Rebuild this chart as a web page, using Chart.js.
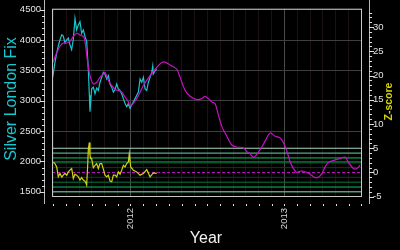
<!DOCTYPE html>
<html><head><meta charset="utf-8">
<script src="https://cdn.jsdelivr.net/npm/chart.js@4/dist/chart.umd.min.js"></script>
<style>html,body{margin:0;padding:0;background:#000;}canvas{display:block;}</style>
</head><body>
<canvas id="c" width="400" height="250"></canvas>
<script>
// ---- data (x = months since Jan 2011) ----
const fixMonth = [5.94,6.12,6.26,6.38,6.51,6.65,6.77,6.90,7.04,7.16,7.29,7.42,7.55,7.68,7.81,7.94,8.07,8.20,8.33,8.46,8.59,8.72,8.80,8.85,8.98,9.11,9.24,9.37,9.50,9.63,9.76,9.89,10.02,10.15,10.28,10.41,10.54,10.67,10.80,10.93,11.06,11.19,11.32,11.45,11.58,11.71,11.84,11.97,12.10,12.23,12.36,12.49,12.62,12.75,12.88,13.01,13.14,13.27,13.40,13.53,13.66,13.74,13.78,13.92,14.05];
const fixPrice = [3385,3628,3789,3902,4004,4085,4064,3951,4004,4032,3923,3842,4004,4355,4166,4246,4301,4112,4166,4059,3978,3519,3090,2820,3196,3224,3116,3208,3170,3305,3385,3466,3439,3358,3413,3277,3224,3143,3187,3277,3196,3170,3116,3035,2954,2901,2954,2873,2935,2981,3035,3090,3143,3358,3305,3385,3196,3170,3305,3385,3466,3574,3439,3494,3519];
const fitMonth = [5.94,6.26,6.51,6.77,7.04,7.29,7.55,7.81,8.07,8.33,8.46,8.64,8.85,9.11,9.37,9.63,9.89,10.02,10.28,10.54,10.80,11.06,11.32,11.58,11.84,11.97,12.49,13.01,13.53,14.05,14.56,15.22,15.61,15.87,16.26,16.65,17.17,17.56,17.81,18.07,18.34,18.59,18.85,19.12,19.51,19.90,20.29,20.78,21.06,21.32,21.58,21.84,22.23,22.49,22.88,23.27,23.66,23.92,24.18,24.44,24.70,24.96,25.22,25.47,25.86,26.13,26.39,26.64,26.91,27.17,27.42,27.81,28.20,28.47,28.72,28.98,29.37,29.64,29.89];
const fitPrice = [3628,3789,3897,3951,3951,3978,4059,4112,4085,4059,3978,3681,3413,3277,3305,3385,3439,3466,3332,3251,3187,3170,3143,3062,2981,2917,3035,3251,3413,3547,3639,3574,3519,3385,3170,3074,3019,3035,3074,3035,2981,2954,2767,2578,2416,2271,2238,2227,2162,2125,2069,2117,2238,2335,2469,2416,2389,2308,2174,1996,1883,1819,1839,1839,1807,1770,1733,1742,1797,1915,1985,2017,2040,2061,2072,1988,1883,1883,1939];
const zMonth = [5.99,6.12,6.26,6.38,6.51,6.65,6.77,6.90,7.04,7.16,7.29,7.42,7.55,7.68,7.81,7.94,8.07,8.20,8.33,8.46,8.59,8.67,8.72,8.80,8.85,8.91,8.98,9.11,9.24,9.37,9.50,9.63,9.76,9.89,10.02,10.15,10.28,10.41,10.54,10.67,10.80,10.93,11.06,11.19,11.32,11.45,11.58,11.71,11.84,11.91,12.02,12.23,12.49,12.75,13.01,13.27,13.53,13.78,14.05];
const zScore = [2.11,1.84,1.08,-0.90,-0.20,-0.96,-0.55,-0.20,-0.55,0.12,0.47,0.82,-1.23,-0.35,-0.55,-0.90,-1.58,-1.06,-1.58,-1.78,-2.60,1.49,4.77,6.2,3.54,2.87,2.87,0.98,1.49,1.84,0.82,1.84,1.84,0.68,-0.55,-0.90,-0.55,-1.78,-1.92,-0.55,-0.55,-0.90,0.12,-0.35,0.47,1.49,1.15,1.84,2.17,3.89,1.15,0.47,0.12,-0.55,-0.20,0.61,-0.90,-0.08,-0.20];
const bandLevels = [5,4,3,2,1,-1,-2,-3,-4,-5];
const zeroLevel = [0];
const priceTicks = [1500,2000,2500,3000,3500,4000,4500];
const zTicks = [-5,0,5,10,15,20,25,30];
const yearTickMonths = [12,24];
const yearTickLabels = ['2012','2013'];
const monthRange = [5.89,30.04];
const priceRange = [1415,4516];
const zRange = [-5.06,33.8];

// ---- styles ----
const bandColors = ['#a8d4bc','#60d8a0','#10c060','#08783a','#04401f','#04401f','#08783a','#10c060','#60d8a0','#a8d4bc'];
const FONT = "'Liberation Sans', Arial, sans-serif";

const pts = (xs, ys) => xs.map((x, i) => ({x, y: ys[i]}));
const datasets = [];
datasets.push({label:'fit', data: pts(fitMonth, fitPrice), yAxisID:'y', borderColor:'#c810c8', borderWidth:1.2, pointRadius:0, tension:0.3, order:0});
datasets.push({label:'fix', data: pts(fixMonth, fixPrice), yAxisID:'y', borderColor:'#18c4cc', borderWidth:1.2, pointRadius:0, tension:0, order:1});
datasets.push({label:'z', data: pts(zMonth, zScore), yAxisID:'y2', borderColor:'#d2d214', borderWidth:1.2, pointRadius:0, tension:0, order:2});
zeroLevel.forEach(l => datasets.push({label:'zero', data:[{x:monthRange[0],y:l},{x:monthRange[1],y:l}], yAxisID:'y2', borderColor:'#c010c0', borderWidth:1, borderDash:[3,2], pointRadius:0, order:5}));
bandLevels.forEach((l, i) => datasets.push({label:'band'+l, data:[{x:monthRange[0],y:l},{x:monthRange[1],y:l}], yAxisID:'y2', borderColor:bandColors[i], borderWidth:1, pointRadius:0, order:10}));

const decor = {
  id: 'decor',
  beforeDraw(chart) {
    const c = chart.ctx; c.save(); c.fillStyle = '#000'; c.fillRect(0, 0, chart.width, chart.height); c.restore();
  },
  afterDraw(chart) {
    const c = chart.ctx, a = chart.chartArea, xs = chart.scales.x, yl = chart.scales.y, yr = chart.scales.y2;
    c.save();
    // frame
    c.strokeStyle = '#c8c8c8'; c.lineWidth = 1;
    c.strokeRect(a.left + 0.5, a.top + 0.5, a.right - a.left - 1, a.bottom - a.top - 1);
    // left axis
    c.fillStyle = '#b8b8b8';
    c.fillRect(44, 0, 1, 204);
    c.fillStyle = '#e0e0e0';
    for (let v = Math.ceil(yl.min / 100) * 100; v <= yl.max; v += 100) {
      const p = Math.round(yl.getPixelForValue(v));
      if (v % 500 === 0) c.fillRect(40, p, 5, 1); else c.fillRect(42, p, 3, 1);
    }
    // right axis
    c.fillStyle = '#b8b8b8';
    c.fillRect(369, 0, 1, 204);
    c.fillStyle = '#e0e0e0';
    for (let v = Math.ceil(yr.min); v <= yr.max; v += 1) {
      const p = Math.round(yr.getPixelForValue(v));
      if (v % 5 === 0) c.fillRect(369, p, 5, 1); else c.fillRect(369, p, 3, 1);
    }
    // bottom month ticks
    for (let m = Math.ceil(xs.min); m <= xs.max; m++) {
      const p = Math.round(xs.getPixelForValue(m));
      c.fillRect(p, 204, 1, 2);
    }
    // titles
    c.textAlign = 'center'; c.textBaseline = 'middle';
    c.save(); c.translate(12, 99); c.rotate(-Math.PI / 2);
    c.fillStyle = '#14c8d0'; c.font = '16px ' + FONT; c.fillText('Silver London Fix', 0, 0); c.restore();
    c.save(); c.translate(389.5, 101.5); c.rotate(-Math.PI / 2);
    c.fillStyle = '#d4d400'; c.font = 'bold 10.5px ' + FONT; c.fillText('Z-score', 0, 0); c.restore();
    c.fillStyle = '#f0f0f0'; c.font = '16px ' + FONT; c.fillText('Year', 206, 239);
    c.restore();
  }
};

new Chart(document.getElementById('c'), {
  type: 'line',
  data: { datasets },
  plugins: [decor],
  options: {
    responsive: false, animation: false, devicePixelRatio: 1,
    layout: { padding: { top: 5, left: 0, right: 0, bottom: 0 } },
    plugins: { legend: { display: false }, tooltip: { enabled: false } },
    elements: { line: { borderCapStyle: 'butt' } },
    scales: {
      x: {
        type: 'linear', min: monthRange[0], max: monthRange[1],
        afterBuildTicks(s) { const t = []; for (let m = Math.ceil(s.min); m <= s.max; m++) t.push({value: m}); s.ticks = t; },
        afterFit(s) { s.height = 53; },
        ticks: { autoSkip: false, minRotation: 90, maxRotation: 90, padding: 3, color: '#d8d8d8', font: { family: FONT, size: 9.5 },
          callback(v) { const i = yearTickMonths.indexOf(v); return i >= 0 ? yearTickLabels[i] : ''; } },
        grid: { color: ctx => (ctx.tick && yearTickMonths.includes(ctx.tick.value)) ? '#4a4a4a' : '#1c1010', tickColor: 'transparent', tickLength: 8, lineWidth: 1 },
        border: { display: false }
      },
      y: {
        type: 'linear', position: 'left', min: priceRange[0], max: priceRange[1],
        afterBuildTicks(s) { s.ticks = priceTicks.map(v => ({value: v})); },
        afterFit(s) { s.width = 52; },
        ticks: { padding: 3, color: '#e4e4e4', font: { family: FONT, size: 9.5 }, callback: v => String(v) },
        grid: { color: '#3e3e3e', tickColor: 'transparent', tickLength: 8, lineWidth: 1 },
        border: { display: false }
      },
      y2: {
        type: 'linear', position: 'right', min: zRange[0], max: zRange[1],
        afterBuildTicks(s) { s.ticks = zTicks.map(v => ({value: v})); },
        afterFit(s) { s.width = 38; },
        ticks: { padding: 3, color: '#e4e4e4', font: { family: FONT, size: 9.5 }, callback: v => String(v) },
        grid: { drawOnChartArea: false, tickColor: 'transparent', tickLength: 8 },
        border: { display: false }
      }
    }
  }
});
</script>
</body></html>
